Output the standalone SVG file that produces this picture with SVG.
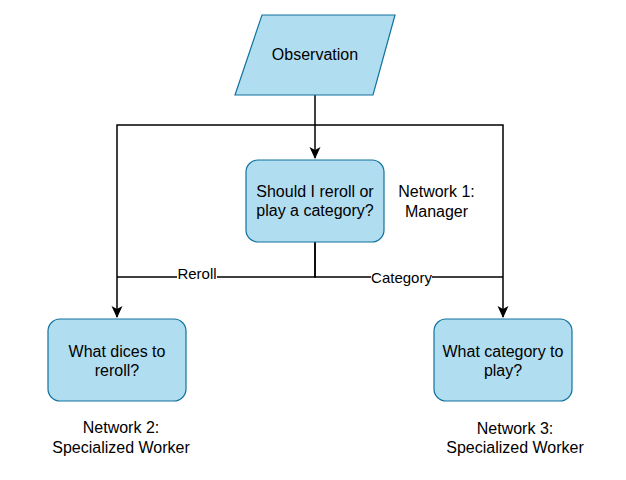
<svg xmlns="http://www.w3.org/2000/svg" width="626" height="480" viewBox="0 0 626 480">
  <style>
    .node { fill: #b1ddf0; stroke: #10739e; stroke-width: 1.2; }
    .edge { fill: none; stroke: #000; stroke-width: 1.5; }
    text { font-family: "Liberation Sans", Arial, sans-serif; font-size: 16px; fill: #000; text-anchor: middle; }
    .lbl { font-size: 15px; }
  </style>
  <defs>
    <marker id="arr" viewBox="0 0 12 12" refX="11" refY="6" markerWidth="12" markerHeight="12" markerUnits="userSpaceOnUse" orient="auto">
      <path d="M0,0.5 L12,6 L0,11.5 L3,6 Z" fill="#000"/>
    </marker>
  </defs>
  <rect width="626" height="480" fill="#fff"/>

  <g id="connectors">
    <path class="edge" d="M315 95 V158" marker-end="url(#arr)"/>
    <path class="edge" d="M315 125 H117 V317" marker-end="url(#arr)"/>
    <path class="edge" d="M315 125 H503 V317" marker-end="url(#arr)"/>
    <path class="edge" d="M315 242 V277 H117"/>
    <path class="edge" d="M315 242 V277 H503"/>
    <g id="label-reroll">
      <rect x="177" y="268" width="40" height="12" fill="#fff"/>
      <text class="lbl" x="197" y="279">Reroll</text>
    </g>
    <g id="label-category">
      <rect x="371" y="270" width="61" height="14" fill="#fff"/>
      <text class="lbl" x="401.5" y="283">Category</text>
    </g>
  </g>

  <g id="observation">
    <polygon class="node" points="262,15 395,15 373,95 235,95"/>
    <text x="315" y="60">Observation</text>
  </g>

  <g id="manager">
    <rect class="node" x="246" y="160" width="138" height="82" rx="12"/>
    <text x="315" y="197">Should I reroll or</text>
    <text x="315" y="216">play a category?</text>
  </g>
  <g id="manager-caption">
    <text x="436.5" y="197">Network 1:</text>
    <text x="436.5" y="217">Manager</text>
  </g>

  <g id="worker-reroll">
    <rect class="node" x="48" y="319" width="138" height="82" rx="12"/>
    <text x="117" y="357">What dices to</text>
    <text x="117" y="376">reroll?</text>
  </g>
  <g id="worker-reroll-caption">
    <text x="121" y="433">Network 2:</text>
    <text x="121" y="452.5">Specialized Worker</text>
  </g>

  <g id="worker-category">
    <rect class="node" x="434" y="319" width="138" height="82" rx="12"/>
    <text x="503" y="357">What category to</text>
    <text x="503" y="376">play?</text>
  </g>
  <g id="worker-category-caption">
    <text x="515" y="434">Network 3:</text>
    <text x="515" y="452.5">Specialized Worker</text>
  </g>
</svg>
